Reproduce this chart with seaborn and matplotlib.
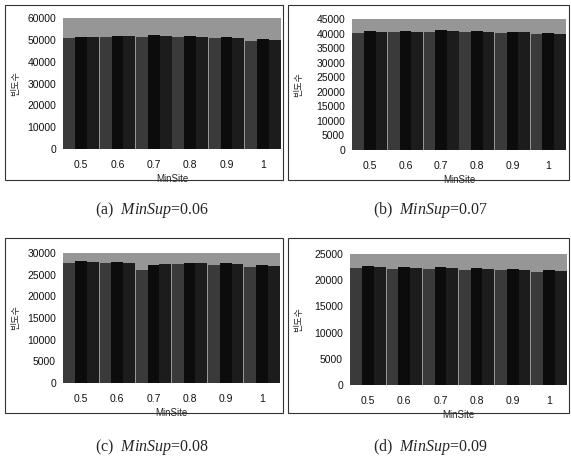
import numpy as np
import pandas as pd
import seaborn as sns
import matplotlib.pyplot as plt
from matplotlib.patches import Rectangle

# MinSite categories (x axis)
min_site = ["0.5", "0.6", "0.7", "0.8", "0.9", "1"]
series = ["s1", "s2", "s3"]

# frequency counts per panel, one list per series
a_s1 = [51000, 51200, 51500, 51300, 50800, 49500]
a_s2 = [51500, 51800, 52000, 51600, 51200, 50200]
a_s3 = [51300, 51600, 51700, 51400, 51000, 49800]

b_s1 = [40300, 40500, 40600, 40400, 40200, 39800]
b_s2 = [40800, 41000, 41100, 40900, 40600, 40300]
b_s3 = [40500, 40700, 40800, 40600, 40400, 40000]

c_s1 = [27800, 27600, 26000, 27400, 27200, 26800]
c_s2 = [28200, 28000, 27200, 27800, 27600, 27200]
c_s3 = [28000, 27800, 27500, 27600, 27400, 27000]

d_s1 = [22300, 22200, 22100, 22000, 21900, 21500]
d_s2 = [22700, 22600, 22500, 22400, 22200, 21900]
d_s3 = [22500, 22400, 22300, 22200, 22000, 21700]

captions = ["(a)  $\\mathit{MinSup}$=0.06", "(b)  $\\mathit{MinSup}$=0.07",
            "(c)  $\\mathit{MinSup}$=0.08", "(d)  $\\mathit{MinSup}$=0.09"]
y_max = [60000, 45000, 30000, 25000]
y_step = [10000, 5000, 5000, 5000]

panels = [[a_s1, a_s2, a_s3], [b_s1, b_s2, b_s3], [c_s1, c_s2, c_s3], [d_s1, d_s2, d_s3]]

sns.set_style("white")
plt.rcParams["font.family"] = ["Liberation Sans", "Noto Sans CJK KR"]
plt.rcParams["mathtext.fontset"] = "custom"
plt.rcParams["mathtext.it"] = "Liberation Serif:italic"
plt.rcParams["mathtext.rm"] = "Liberation Serif"

W, H = 571, 468
fig = plt.figure(figsize=(W / 100, H / 100), dpi=100)

# plot-area boxes in pixels: left, top, right, bottom
boxes = [(63, 18, 281, 149), (352, 19, 566, 150), (63, 253, 280, 383), (350, 254, 567, 385)]
frames = [(5, 5, 283, 180), (288, 5, 569, 180), (5, 238, 283, 413), (288, 238, 569, 413)]
cap_pos = [(152, 210), (430, 210), (152, 447), (430, 447)]
palette = ["#3a3a3a", "#0c0c0c", "#1c1c1c"]

for i, vals in enumerate(panels):
    l, t, r, b = boxes[i]
    ax = fig.add_axes([l / W, 1 - b / H, (r - l) / W, (b - t) / H])
    df = pd.DataFrame({
        "MinSite": min_site * len(series),
        "series": [s for s in series for _ in min_site],
        "count": [v for s in vals for v in s],
    })
    sns.barplot(data=df, x="MinSite", y="count", hue="series", order=min_site,
                palette=palette, width=0.98, ax=ax, legend=False,
                edgecolor="none", saturation=1)
    ax.set_facecolor("#969696")
    ax.set_ylim(0, y_max[i])
    ax.set_yticks(np.arange(0, y_max[i] + 1, y_step[i]))
    ax.tick_params(axis="y", labelsize=7.5, length=0, pad=5, colors="#111111")
    ax.tick_params(axis="x", labelsize=7.5, length=0, pad=8, colors="#111111")
    for sp in ax.spines.values():
        sp.set_visible(False)
    ax.set_xlabel("MinSite", fontsize=7, labelpad=3)
    ax.set_ylabel("빈도수", fontsize=6.5, family=["Noto Sans CJK KR"])
    ax.yaxis.set_label_coords(-(l - 20 - frames[i][0] + 5) / (r - l), 0.5)

    fl, ft, fr, fb = frames[i]
    fig.add_artist(Rectangle((fl / W, 1 - fb / H), (fr - fl) / W, (fb - ft) / H,
                             transform=fig.transFigure, fill=False,
                             edgecolor="#333333", linewidth=0.8))
    cx, cy = cap_pos[i]
    fig.text(cx / W, 1 - cy / H, captions[i], ha="center", va="center",
             fontsize=11.5, family="Liberation Serif")

fig.savefig("out.png", dpi=100)
